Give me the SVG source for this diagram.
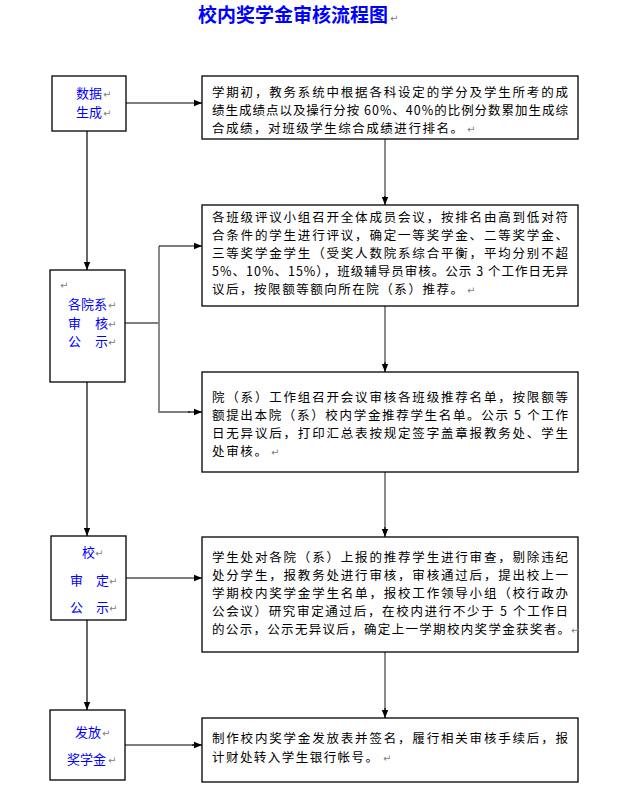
<svg xmlns="http://www.w3.org/2000/svg" width="633" height="796" viewBox="0 0 633 796">
<style>
.box{fill:#fff;stroke:#000;stroke-width:1.3}
.t{font-family:"Noto Sans CJK SC","Liberation Sans",sans-serif;font-size:12.5px;fill:#000}
.b{font-family:"Noto Sans CJK SC","Liberation Sans",sans-serif;font-size:13px;fill:#0000ff}
.title{font-family:"Noto Sans CJK SC","Liberation Sans",sans-serif;font-size:19px;font-weight:bold;fill:#0000ff}
.rm{font-family:"DejaVu Sans",sans-serif;font-size:10px;fill:#808080}
.c{fill:none;stroke:#000;stroke-width:1.2}
.g{fill:none;stroke:#7f7f7f;stroke-width:1.8}
</style>
<defs>
<marker id="ah" viewBox="0 0 8 8" refX="8" refY="4" markerWidth="8" markerHeight="8" markerUnits="userSpaceOnUse" orient="auto">
<path d="M0,0.8 L8,4 L0,7.2 Z" fill="#000"/>
</marker>
</defs>
<rect width="633" height="796" fill="#fff"/>
<g id="title">
<text class="title" x="198" y="22" textLength="190" lengthAdjust="spacing">校内奖学金审核流程图</text>
<text class="rm" x="390" y="22">↵</text>
</g>
<g id="connectors">
<path class="g" d="M126,103 H194"/>
<path class="c" d="M194,103 H202" marker-end="url(#ah)"/>
<path class="c" d="M87,131 V270" marker-end="url(#ah)"/>
<path class="g" d="M385,139 V198"/>
<path class="c" d="M385,196 V205" marker-end="url(#ah)"/>
<path class="g" d="M125,323 H159 M159,246 V412 H190"/>
<path class="c" d="M159,246 H202" marker-end="url(#ah)"/>
<path class="c" d="M188,412 H202" marker-end="url(#ah)"/>
<path class="g" d="M385,306 V365"/>
<path class="c" d="M385,362 V372" marker-end="url(#ah)"/>
<path class="c" d="M87,382 V536" marker-end="url(#ah)"/>
<path class="g" d="M385,472 V530"/>
<path class="c" d="M385,527 V537" marker-end="url(#ah)"/>
<path class="c" d="M126,578 H202" marker-end="url(#ah)"/>
<path class="c" d="M87,620 V710" marker-end="url(#ah)"/>
<path class="g" d="M385,652 V711"/>
<path class="c" d="M385,708 V718" marker-end="url(#ah)"/>
<path class="g" d="M125,745 H194"/>
<path class="c" d="M192,745 H202" marker-end="url(#ah)"/>
</g>
<g id="n1">
<rect class="box" x="52" y="76" width="74" height="55"/>
<text class="b" x="76" y="98">数据</text><text class="rm" x="103" y="98">↵</text>
<text class="b" x="76" y="117">生成</text><text class="rm" x="103" y="117">↵</text>
</g>
<g id="r1">
<rect class="box" x="202" y="76" width="376" height="63"/>
<text class="t" x="212" y="97" textLength="356" lengthAdjust="spacing">学期初，教务系统中根据各科设定的学分及学生所考的成</text>
<text class="t" x="212" y="115" textLength="356" lengthAdjust="spacing">绩生成绩点以及操行分按 60%、40%的比例分数累加生成综</text>
<text class="t" x="212" y="133" textLength="251" lengthAdjust="spacing">合成绩，对班级学生综合成绩进行排名。</text><text class="rm" x="467" y="133">↵</text>
</g>
<g id="r2">
<rect class="box" x="202" y="205" width="376" height="101"/>
<text class="t" x="212" y="222" textLength="356" lengthAdjust="spacing">各班级评议小组召开全体成员会议，按排名由高到低对符</text>
<text class="t" x="212" y="240" textLength="356" lengthAdjust="spacing">合条件的学生进行评议，确定一等奖学金、二等奖学金、</text>
<text class="t" x="212" y="258" textLength="356" lengthAdjust="spacing">三等奖学金学生（受奖人数院系综合平衡，平均分别不超</text>
<text class="t" x="212" y="276" textLength="356" lengthAdjust="spacing">5%、10%、15%），班级辅导员审核。公示 3 个工作日无异</text>
<text class="t" x="212" y="294" textLength="251" lengthAdjust="spacing">议后，按限额等额向所在院（系）推荐。</text><text class="rm" x="467" y="294">↵</text>
</g>
<g id="n2">
<rect class="box" x="50" y="270" width="75" height="112"/>
<text class="rm" x="60" y="289">↵</text>
<text class="b" x="68" y="309">各院系</text><text class="rm" x="108" y="309">↵</text>
<text class="b" x="68" y="328">审</text><text class="b" x="95" y="328">核</text><text class="rm" x="108" y="328">↵</text>
<text class="b" x="68" y="346">公</text><text class="b" x="95" y="346">示</text><text class="rm" x="108" y="346">↵</text>
</g>
<g id="r3">
<rect class="box" x="202" y="372" width="376" height="100"/>
<text class="t" x="212" y="402" textLength="356" lengthAdjust="spacing">院（系）工作组召开会议审核各班级推荐名单，按限额等</text>
<text class="t" x="212" y="420" textLength="356" lengthAdjust="spacing">额提出本院（系）校内学金推荐学生名单。公示 5 个工作</text>
<text class="t" x="212" y="438" textLength="356" lengthAdjust="spacing">日无异议后，打印汇总表按规定签字盖章报教务处、学生</text>
<text class="t" x="212" y="456" textLength="55" lengthAdjust="spacing">处审核。</text><text class="rm" x="271" y="456">↵</text>
</g>
<g id="n3">
<rect class="box" x="51" y="536" width="75" height="84"/>
<text class="b" x="82" y="557">校</text><text class="rm" x="95" y="557">↵</text>
<text class="b" x="70" y="585">审</text><text class="b" x="96" y="585">定</text><text class="rm" x="109" y="585">↵</text>
<text class="b" x="70" y="612">公</text><text class="b" x="96" y="612">示</text><text class="rm" x="109" y="612">↵</text>
</g>
<g id="r4">
<rect class="box" x="202" y="537" width="376" height="115"/>
<text class="t" x="212" y="562" textLength="356" lengthAdjust="spacing">学生处对各院（系）上报的推荐学生进行审查，剔除违纪</text>
<text class="t" x="212" y="580" textLength="356" lengthAdjust="spacing">处分学生，报教务处进行审核，审核通过后，提出校上一</text>
<text class="t" x="212" y="598" textLength="356" lengthAdjust="spacing">学期校内奖学金学生名单，报校工作领导小组（校行政办</text>
<text class="t" x="212" y="616" textLength="356" lengthAdjust="spacing">公会议）研究审定通过后，在校内进行不少于 5 个工作日</text>
<text class="t" x="212" y="634" textLength="358" lengthAdjust="spacing">的公示，公示无异议后，确定上一学期校内奖学金获奖者。</text><text class="rm" x="571" y="634">↵</text>
</g>
<g id="n4">
<rect class="box" x="50" y="710" width="75" height="70"/>
<text class="b" x="75" y="737">发放</text><text class="rm" x="102" y="737">↵</text>
<text class="b" x="67" y="764">奖学金</text><text class="rm" x="108" y="764">↵</text>
</g>
<g id="r5">
<rect class="box" x="202" y="718" width="376" height="64"/>
<text class="t" x="212" y="743" textLength="356" lengthAdjust="spacing">制作校内奖学金发放表并签名，履行相关审核手续后，报</text>
<text class="t" x="212" y="762" textLength="166" lengthAdjust="spacing">计财处转入学生银行帐号。</text><text class="rm" x="383" y="762">↵</text>
</g>
</svg>
